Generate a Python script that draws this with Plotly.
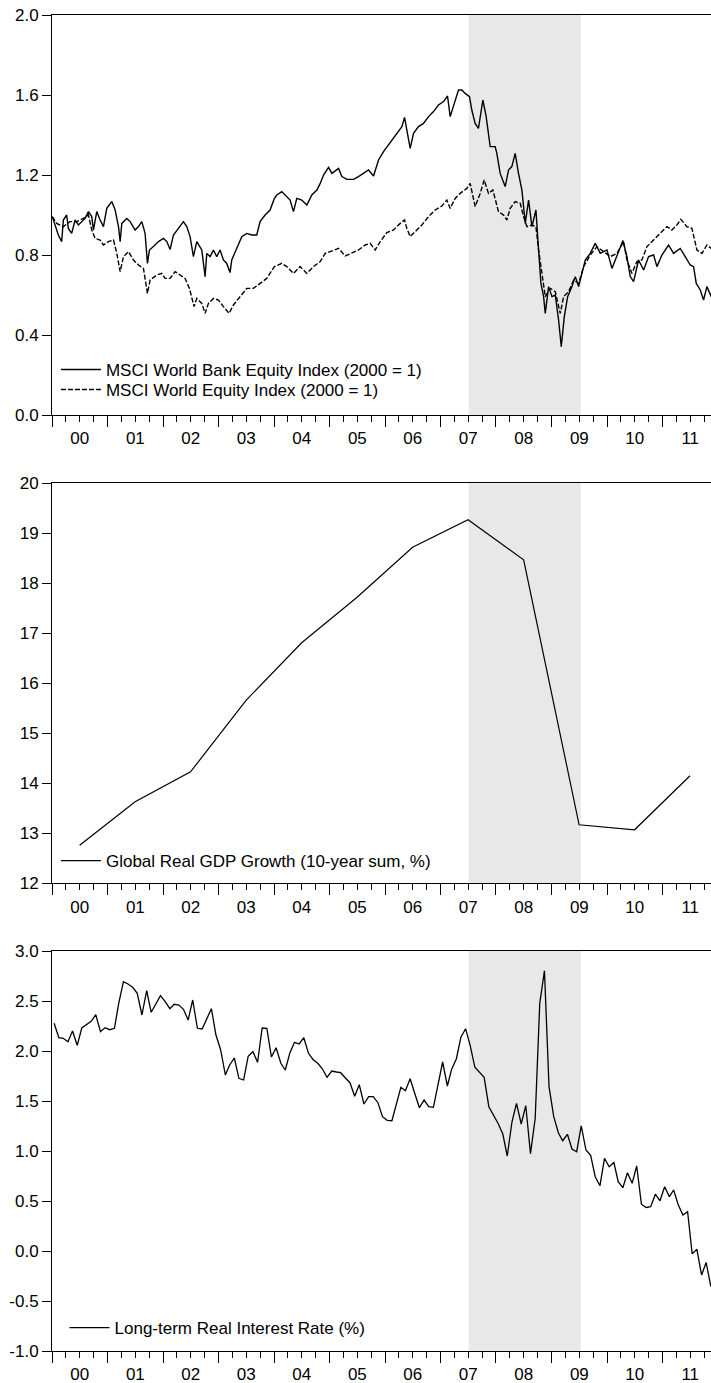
import datetime as dt
import plotly.graph_objects as go

# ---------------- data ----------------
# Panel 1: MSCI indices (2000 = 1); observation times as decimal years
bank_t = [2000.005, 2000.054, 2000.114, 2000.174, 2000.204, 2000.264, 2000.294, 2000.354, 2000.415, 2000.475,
          2000.535, 2000.595, 2000.655, 2000.715, 2000.745, 2000.805, 2000.865, 2000.925, 2000.985, 2001.045,
          2001.075, 2001.136, 2001.196, 2001.226, 2001.256, 2001.346, 2001.406, 2001.496, 2001.556, 2001.616,
          2001.676, 2001.718, 2001.754, 2001.826, 2001.917, 2002.007, 2002.067, 2002.127, 2002.187, 2002.277,
          2002.367, 2002.427, 2002.487, 2002.547, 2002.608, 2002.698, 2002.758, 2002.788, 2002.848, 2002.908,
          2002.968, 2003.028, 2003.088, 2003.148, 2003.208, 2003.238, 2003.329, 2003.419, 2003.509, 2003.599,
          2003.689, 2003.749, 2003.839, 2003.929, 2004.007, 2004.050, 2004.140, 2004.230, 2004.290, 2004.350,
          2004.410, 2004.500, 2004.590, 2004.680, 2004.771, 2004.831, 2004.891, 2004.981, 2005.041, 2005.161,
          2005.221, 2005.311, 2005.431, 2005.521, 2005.612, 2005.702, 2005.792, 2005.882, 2005.972, 2006.062,
          2006.152, 2006.243, 2006.303, 2006.351, 2006.393, 2006.453, 2006.513, 2006.603, 2006.693, 2006.783,
          2006.873, 2006.963, 2007.054, 2007.126, 2007.174, 2007.234, 2007.324, 2007.384, 2007.444, 2007.522,
          2007.564, 2007.624, 2007.684, 2007.763, 2007.823, 2007.895, 2007.985, 2008.015, 2008.075, 2008.165,
          2008.225, 2008.285, 2008.345, 2008.405, 2008.466, 2008.526, 2008.586, 2008.646, 2008.718, 2008.766,
          2008.808, 2008.856, 2008.886, 2008.946, 2009.006, 2009.066, 2009.126, 2009.174, 2009.229, 2009.289,
          2009.367, 2009.427, 2009.487, 2009.547, 2009.607, 2009.697, 2009.787, 2009.877, 2009.998, 2010.088,
          2010.178, 2010.286, 2010.358, 2010.418, 2010.478, 2010.568, 2010.659, 2010.749, 2010.839, 2010.899,
          2010.989, 2011.109, 2011.199, 2011.319, 2011.409, 2011.500, 2011.560, 2011.608, 2011.680, 2011.740,
          2011.800, 2011.878]
bank_v = [0.992, 0.95, 0.90, 0.867, 0.975, 1.0, 0.933, 0.908, 0.975, 0.95,
          0.967, 0.983, 1.017, 0.992, 0.925, 1.017, 0.975, 0.942, 1.033, 1.058,
          1.067, 1.025, 0.942, 0.867, 0.958, 0.983, 0.967, 0.925, 0.942, 0.967,
          0.908, 0.758, 0.825, 0.842, 0.867, 0.883, 0.867, 0.828, 0.90, 0.933,
          0.967, 0.942, 0.892, 0.792, 0.867, 0.825, 0.692, 0.808, 0.792, 0.825,
          0.792, 0.825, 0.775, 0.758, 0.712, 0.775, 0.833, 0.892, 0.908, 0.90,
          0.90, 0.967, 1.0, 1.025, 1.083, 1.10, 1.117, 1.092, 1.075, 1.017,
          1.083, 1.075, 1.05, 1.10, 1.125, 1.158, 1.20, 1.238, 1.208, 1.233,
          1.192, 1.178, 1.178, 1.192, 1.208, 1.225, 1.195, 1.275, 1.317, 1.35,
          1.383, 1.417, 1.442, 1.488, 1.425, 1.333, 1.408, 1.442, 1.458, 1.492,
          1.517, 1.55, 1.567, 1.595, 1.492, 1.55, 1.625, 1.625, 1.608, 1.592,
          1.525, 1.458, 1.433, 1.575, 1.492, 1.342, 1.342, 1.308, 1.208, 1.142,
          1.225, 1.242, 1.308, 1.208, 1.125, 0.958, 1.075, 0.942, 1.025, 0.825,
          0.658, 0.592, 0.508, 0.642, 0.592, 0.60, 0.475, 0.342, 0.492, 0.592,
          0.642, 0.692, 0.642, 0.708, 0.775, 0.808, 0.858, 0.808, 0.825, 0.733,
          0.792, 0.872, 0.792, 0.692, 0.667, 0.775, 0.725, 0.792, 0.80, 0.742,
          0.80, 0.85, 0.808, 0.833, 0.792, 0.75, 0.742, 0.658, 0.625, 0.575,
          0.642, 0.592]

world_t = [2000.005, 2000.084, 2000.204, 2000.324, 2000.445, 2000.565, 2000.655, 2000.715, 2000.775, 2000.865,
           2000.925, 2001.015, 2001.106, 2001.166, 2001.226, 2001.286, 2001.376, 2001.466, 2001.556, 2001.646,
           2001.718, 2001.766, 2001.887, 2001.977, 2002.037, 2002.127, 2002.217, 2002.307, 2002.397, 2002.475,
           2002.559, 2002.608, 2002.698, 2002.758, 2002.818, 2002.908, 2002.998, 2003.088, 2003.190, 2003.268,
           2003.389, 2003.509, 2003.629, 2003.749, 2003.869, 2004.007, 2004.140, 2004.230, 2004.350, 2004.470,
           2004.590, 2004.710, 2004.831, 2004.921, 2005.011, 2005.161, 2005.281, 2005.401, 2005.521, 2005.642,
           2005.732, 2005.822, 2005.912, 2006.032, 2006.152, 2006.273, 2006.351, 2006.393, 2006.453, 2006.543,
           2006.663, 2006.783, 2006.903, 2007.024, 2007.114, 2007.174, 2007.264, 2007.354, 2007.474, 2007.534,
           2007.624, 2007.715, 2007.787, 2007.865, 2007.943, 2008.045, 2008.135, 2008.195, 2008.255, 2008.345,
           2008.436, 2008.496, 2008.556, 2008.646, 2008.718, 2008.766, 2008.826, 2008.886, 2008.976, 2009.066,
           2009.156, 2009.216, 2009.307, 2009.397, 2009.487, 2009.577, 2009.697, 2009.817, 2009.937, 2010.058,
           2010.178, 2010.298, 2010.358, 2010.448, 2010.538, 2010.628, 2010.719, 2010.839, 2010.959, 2011.079,
           2011.169, 2011.259, 2011.331, 2011.440, 2011.530, 2011.572, 2011.620, 2011.710, 2011.800, 2011.878]
world_v = [0.992, 0.958, 0.942, 0.967, 0.967, 0.983, 1.0, 0.925, 0.883, 0.875,
           0.85, 0.867, 0.875, 0.808, 0.717, 0.792, 0.817, 0.775, 0.75, 0.733,
           0.608, 0.675, 0.70, 0.708, 0.683, 0.683, 0.717, 0.70, 0.683, 0.633,
           0.542, 0.583, 0.558, 0.508, 0.558, 0.583, 0.575, 0.542, 0.508, 0.55,
           0.592, 0.633, 0.633, 0.658, 0.683, 0.742, 0.758, 0.742, 0.708, 0.742,
           0.708, 0.742, 0.767, 0.808, 0.817, 0.833, 0.795, 0.808, 0.825, 0.85,
           0.858, 0.825, 0.867, 0.912, 0.925, 0.958, 0.975, 0.933, 0.892, 0.917,
           0.95, 0.992, 1.025, 1.045, 1.075, 1.033, 1.083, 1.108, 1.133, 1.158,
           1.042, 1.108, 1.175, 1.108, 1.125, 1.017, 1.0, 0.975, 1.033, 1.067,
           1.058, 0.992, 0.942, 0.95, 0.942, 0.825, 0.708, 0.592, 0.633, 0.617,
           0.508, 0.592, 0.617, 0.675, 0.658, 0.742, 0.80, 0.842, 0.817, 0.792,
           0.808, 0.867, 0.775, 0.708, 0.767, 0.775, 0.842, 0.875, 0.908, 0.942,
           0.925, 0.95, 0.978, 0.942, 0.933, 0.875, 0.825, 0.808, 0.85, 0.833]

# Panel 2: Global real GDP growth (10-year sum, %), annual
gdp_years = [2000, 2001, 2002, 2003, 2004, 2005, 2006, 2007, 2008, 2009, 2010, 2011]
gdp_v = [12.76, 13.63, 14.23, 15.66, 16.81, 17.72, 18.72, 19.27, 18.47, 13.17, 13.07, 14.15]

# Panel 3: Long-term real interest rate (%), monthly Jan 2000 - Nov 2011
rate_v = [2.277, 2.133, 2.127, 2.093, 2.20, 2.057, 2.23, 2.263, 2.297, 2.363, 2.193, 2.233,
          2.213, 2.227, 2.477, 2.693, 2.67, 2.637, 2.577, 2.36, 2.603, 2.387, 2.47, 2.553,
          2.493, 2.423, 2.467, 2.46, 2.417, 2.31, 2.51, 2.227, 2.22, 2.327, 2.423, 2.16,
          2.01, 1.76, 1.86, 1.93, 1.727, 1.71, 1.947, 1.993, 1.887, 2.23, 2.227, 1.94,
          2.033, 1.877, 1.81, 1.983, 2.087, 2.07, 2.133, 1.977, 1.913, 1.877, 1.82, 1.737,
          1.80, 1.79, 1.783, 1.73, 1.683, 1.547, 1.663, 1.47, 1.543, 1.543, 1.483, 1.343,
          1.307, 1.303, 1.47, 1.637, 1.603, 1.723, 1.577, 1.433, 1.51, 1.443, 1.437, 1.677,
          1.89, 1.65, 1.817, 1.92, 2.137, 2.223, 2.057, 1.837, 1.787, 1.737, 1.443, 1.36,
          1.275, 1.17, 0.95, 1.29, 1.477, 1.27, 1.453, 0.973, 1.327, 2.477, 2.803, 1.643,
          1.343, 1.18, 1.103, 1.167, 1.02, 0.993, 1.252, 1.01, 0.957, 0.743, 0.652, 0.927,
          0.843, 0.885, 0.693, 0.633, 0.783, 0.677, 0.85, 0.468, 0.435, 0.443, 0.568, 0.502,
          0.643, 0.543, 0.61, 0.46, 0.36, 0.393, -0.027, 0.017, -0.24, -0.115, -0.357]

shade_start = "2007-07-05"
shade_end = "2009-07-12"
x_start = "2000-01-01"
x_end = "2011-11-16"

y1_ticks = [0.0, 0.4, 0.8, 1.2, 1.6, 2.0]
y1_text = ["0.0", "0.4", "0.8", "1.2", "1.6", "2.0"]
y2_ticks = [12, 13, 14, 15, 16, 17, 18, 19, 20]
y2_text = ["12", "13", "14", "15", "16", "17", "18", "19", "20"]
y3_ticks = [-1.0, -0.5, 0.0, 0.5, 1.0, 1.5, 2.0, 2.5, 3.0]
y3_text = ["-1.0", "-0.5", "0.0", "0.5", "1.0", "1.5", "2.0", "2.5", "3.0"]

names = ["MSCI World Bank Equity Index (2000 = 1)",
         "MSCI World Equity Index (2000 = 1)",
         "Global Real GDP Growth (10-year sum, %)",
         "Long-term Real Interest Rate (%)"]


# ---------------- helpers ----------------
def dec2dt(t):
    y = int(t)
    a = dt.datetime(y, 1, 1)
    b = dt.datetime(y + 1, 1, 1)
    return a + (b - a) * (t - y)


bank_x = [dec2dt(t) for t in bank_t]
world_x = [dec2dt(t) for t in world_t]
gdp_x = [dt.datetime(y, 7, 1) for y in gdp_years]
rate_x = [dt.datetime(2000 + m // 12, m % 12 + 1, 15) for m in range(len(rate_v))]

FONT = "Liberation Sans, Arial, sans-serif"
FS = 17

fig = go.Figure()
fig.add_trace(go.Scatter(x=bank_x, y=bank_v, mode="lines", name=names[0],
                         line=dict(color="black", width=1.4), xaxis="x", yaxis="y", legend="legend"))
fig.add_trace(go.Scatter(x=world_x, y=world_v, mode="lines", name=names[1],
                         line=dict(color="black", width=1.4, dash="5px,2px"), xaxis="x", yaxis="y",
                         legend="legend4"))
fig.add_trace(go.Scatter(x=gdp_x, y=gdp_v, mode="lines", name=names[2],
                         line=dict(color="black", width=1.2), xaxis="x2", yaxis="y2", legend="legend2"))
fig.add_trace(go.Scatter(x=rate_x, y=rate_v, mode="lines", name=names[3],
                         line=dict(color="black", width=1.3), xaxis="x3", yaxis="y3", legend="legend3"))

H_PLOT = 1336.0
def pf(ypx):
    return (1351.0 - ypx) / H_PLOT

domains = {1: [pf(415), 1.0], 2: [pf(883.3), pf(483.3)], 3: [0.0, pf(951)]}

xcommon = dict(type="date", range=[x_start, x_end], tick0="2000-01-01", dtick="M12",
               tickformat="%y", ticklabelmode="period", ticks="outside", ticklen=11,
               tickwidth=1, tickcolor="black", showline=True, linecolor="black", linewidth=1,
               mirror=True, showgrid=False, zeroline=False, automargin=False,
               ticklabelstandoff=-3, ticklabeloverflow="allow",
               tickfont=dict(family=FONT, size=FS, color="black"),
               minor=dict(dtick="M3", tick0="2000-01-01", ticks="outside", ticklen=6,
                          tickcolor="black", tickwidth=1, showgrid=False))
ycommon = dict(ticks="outside", ticklen=9, tickwidth=1, tickcolor="black", showline=True,
               linecolor="black", linewidth=1, showgrid=False, zeroline=False, tickmode="array",
               automargin=False, ticklabeloverflow="allow",
               tickfont=dict(family=FONT, size=FS, color="black"))

layout = dict(
    width=711, height=1383,
    margin=dict(l=52, r=0, t=15, b=32, autoexpand=False),
    paper_bgcolor="white", plot_bgcolor="white",
    font=dict(family=FONT, size=FS, color="black"),
    showlegend=True,
    xaxis=dict(xcommon, anchor="y"),
    xaxis2=dict(xcommon, anchor="y2"),
    xaxis3=dict(xcommon, anchor="y3"),
    yaxis=dict(ycommon, domain=domains[1], range=[0, 2], tickvals=y1_ticks, ticktext=y1_text, anchor="x"),
    yaxis2=dict(ycommon, domain=domains[2], range=[12, 20], tickvals=y2_ticks, ticktext=y2_text, anchor="x2"),
    yaxis3=dict(ycommon, domain=domains[3], range=[-1, 3], tickvals=y3_ticks, ticktext=y3_text, anchor="x3"),
)
leg = dict(bgcolor="rgba(0,0,0,0)", borderwidth=0, xanchor="left", yanchor="middle",
           font=dict(family=FONT, size=FS, color="black"), itemwidth=40, tracegroupgap=0)
layout["legend"] = dict(leg, x=0.006, y=pf(370))
layout["legend4"] = dict(leg, x=0.006, y=pf(390))
layout["legend2"] = dict(leg, x=0.006, y=pf(861))
layout["legend3"] = dict(leg, x=0.019, y=pf(1328))
fig.update_layout(**layout)

shapes = []
for xr, yr in (("x", "y"), ("x2", "y2"), ("x3", "y3")):
    shapes.append(dict(type="rect", xref=xr, yref=yr + " domain", x0=shade_start, x1=shade_end,
                       y0=0, y1=1, fillcolor="#E8E8E8", line=dict(width=0), layer="below"))
fig.update_layout(shapes=shapes)

# remove the default page margin so the 711x1383 figure fills the window exactly
fig.write_html("out.html", config={"displayModeBar": False},
               post_script="document.body.style.margin='0';document.body.style.overflow='hidden';")
